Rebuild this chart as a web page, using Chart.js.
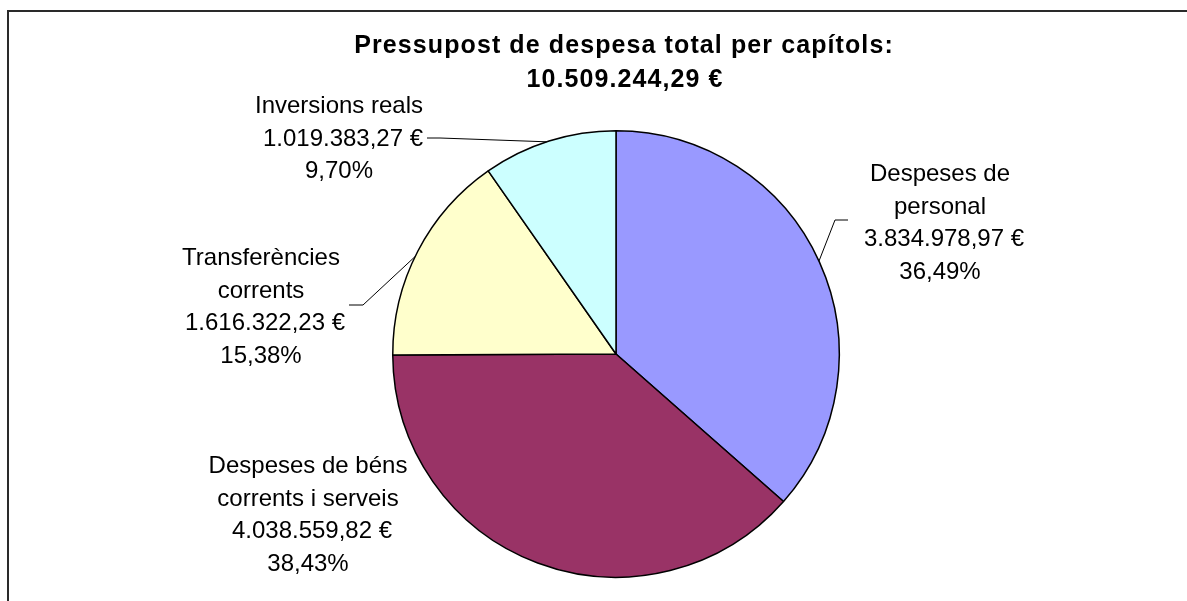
<!DOCTYPE html>
<html>
<head>
<meta charset="utf-8">
<script src="https://cdn.jsdelivr.net/npm/chart.js@4/dist/chart.umd.min.js"></script>
<style>
  html, body { margin: 0; padding: 0; background: #fff; overflow: hidden; }
  #wrap { position: relative; width: 1187px; height: 601px; }
  #frame { position: absolute; left: 7px; top: 10px; width: 1300px; height: 700px; border: 2px solid #2a2a2a; box-sizing: border-box; }
  canvas { position: absolute; left: 0; top: 0; }
</style>
</head>
<body>
<div id="wrap">
  <div id="frame"></div>
  <canvas id="pie" width="1187" height="601"></canvas>
</div>
<script>
// chapters of the budget, clockwise from 12 o'clock
const categories = [
  ['Despeses de', 'personal'],
  ['Despeses de béns', 'corrents i serveis'],
  ['Transferències', 'corrents'],
  ['Inversions reals']
];
const amounts = [3834978.97, 4038559.82, 1616322.23, 1019383.27];
const colors = ['#9999FF', '#993366', '#FFFFCC', '#CCFFFF'];
const titleText = 'Pressupost de despesa total per capítols:';

// label layout, px relative to the pie centre; edge = angle (deg, clockwise from top) where leader meets the pie
const labelPos = [
  { dx: 324, dy: -173, leader: [[232, -134], [219, -134]], edge: 65.4 },
  { dx: -308, dy: 119, leader: null },
  { dx: -355, dy: -89, leader: [[-267, -49], [-253, -49]], edge: 295.9 },
  { dx: -277, dy: -241, leader: [[-189, -216], [-176, -216]], edge: 341.9 }
];

function fmt(n) {
  const parts = n.toFixed(2).split('.');
  return parts[0].replace(/\B(?=(\d{3})+(?!\d))/g, '.') + ',' + parts[1];
}

const total = amounts.reduce((a, b) => a + b, 0);

const labelsPlugin = {
  id: 'labels',
  afterDraw(chart) {
    const ctx = chart.ctx;
    const arc = chart.getDatasetMeta(0).data[0];
    const cx = arc.x, cy = arc.y, R = arc.outerRadius;
    ctx.save();

    // title
    ctx.fillStyle = '#000';
    ctx.textAlign = 'center';
    ctx.textBaseline = 'alphabetic';
    ctx.font = 'bold 25px "Liberation Sans", Arial, sans-serif';
    ctx.letterSpacing = '1.1px';
    ctx.fillText(titleText, cx + 8, 53);
    ctx.fillText(fmt(total) + ' €', cx + 9, 87);
    ctx.letterSpacing = '0px';

    // leader lines
    ctx.strokeStyle = '#000';
    ctx.lineWidth = 1;
    labelPos.forEach(p => {
      if (!p.leader) return;
      const a = p.edge * Math.PI / 180;
      ctx.beginPath();
      ctx.moveTo(cx + p.leader[0][0], cy + p.leader[0][1]);
      ctx.lineTo(cx + p.leader[1][0], cy + p.leader[1][1]);
      ctx.lineTo(cx + Math.sin(a) * R, cy - Math.cos(a) * R);
      ctx.stroke();
    });

    // data labels
    ctx.font = '24px "Liberation Sans", Arial, sans-serif';
    categories.forEach((cat, i) => {
      const p = labelPos[i];
      const lines = cat.concat([fmt(amounts[i]) + ' €', fmt(amounts[i] / total * 100) + '%']);
      lines.forEach((ln, k) => {
        const shift = (k === cat.length) ? 4 : 0;
        ctx.fillText(ln, cx + p.dx + shift, cy + p.dy + k * 32.5);
      });
    });
    ctx.restore();
  }
};

new Chart(document.getElementById('pie'), {
  type: 'pie',
  data: {
    labels: categories.map(c => c.join(' ')),
    datasets: [{
      data: amounts,
      backgroundColor: colors,
      borderColor: '#000',
      borderWidth: 1.5
    }]
  },
  options: {
    responsive: false,
    animation: false,
    layout: { padding: { left: 300, right: 255, top: 130, bottom: 23 } },
    plugins: {
      legend: { display: false },
      tooltip: { enabled: false },
      title: { display: false }
    }
  },
  plugins: [labelsPlugin]
});
</script>
</body>
</html>
